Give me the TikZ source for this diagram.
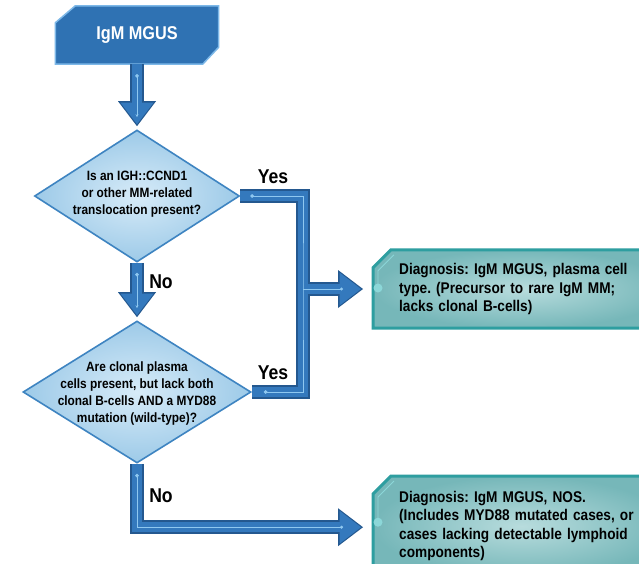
\documentclass[tikz,border=0pt]{standalone}
\usepackage{fontspec}
\setmainfont{Liberation Sans}[FakeStretch=0.88]
\frenchspacing
\usetikzlibrary{shapes.geometric,arrows.meta,backgrounds}

\definecolor{startfill}{RGB}{47,114,179}
\definecolor{startedge}{RGB}{125,184,232}
\definecolor{barfill}{RGB}{52,121,189}
\definecolor{baredge}{RGB}{36,88,143}
\definecolor{barglint}{RGB}{143,200,240}
\definecolor{qin}{RGB}{215,235,248}
\definecolor{qout}{RGB}{157,202,232}
\definecolor{qedge}{RGB}{62,132,193}
\definecolor{dxin}{RGB}{184,220,221}
\definecolor{dxout}{RGB}{118,183,185}
\definecolor{dxedge}{RGB}{46,158,160}
\definecolor{dxglint}{RGB}{140,215,216}

\tikzset{
  startbox/.style={minimum width=163pt,minimum height=58pt,inner sep=0pt,text=white,font=\fontsize{18.5}{22}\selectfont\bfseries},
  question/.style={diamond,draw=qedge,line width=1.6pt,inner color=qin,outer color=qout,inner sep=0pt},
  qtext/.style={align=center,font=\fontsize{13.5}{17}\selectfont\bfseries},
  diag/.style={anchor=west,minimum height=78pt,inner xsep=26pt,text width=245pt,align=left,font=\fontsize{15.5}{18.5}\selectfont\bfseries},
  lbl/.style={font=\fontsize{20}{24}\selectfont\bfseries},
  barout/.style={draw=baredge,line width=13.5pt},
  barin/.style={draw=barfill,line width=10pt},
  headout/.style={-{Triangle[width=38pt,length=25pt,line width=0pt]}},
  headin/.style={-{Triangle[width=33pt,length=21.5pt,line width=0pt]}},
  glint/.style={draw=barglint,line width=1pt},
}

\begin{document}
\begin{tikzpicture}[x=1pt,y=-1pt]
\useasboundingbox (0,0) rectangle (639,563);
\clip (0,0) rectangle (639,563);
% nodes
\node[startbox] (start) at (137,35) {IgM MGUS};
\node[question,minimum width=205pt,minimum height=132pt] (d1) at (137,196) {};
\node[qtext] (d1t) at (137,194) {Is an IGH::CCND1\\or other MM-related\\translocation present?};
\node[question,minimum width=228pt,minimum height=142pt] (d2) at (137,392) {};
\node[qtext] (d2t) at (137,393) {Are clonal plasma\\cells present, but lack both\\clonal B-cells AND a MYD88\\mutation (wild-type)?};
\node[diag] (dx1) at (373,289) {Diagnosis: IgM MGUS, plasma cell\\type. (Precursor to rare IgM MM;\\lacks clonal B-cells)};
\node[diag,anchor=north west,minimum height=100pt] (dx2) at (373,476) {Diagnosis: IgM MGUS, NOS.\\(Includes MYD88 mutated cases, or\\cases lacking detectable lymphoid\\components)};
\coordinate (jn) at (303,289);
% labels
\node[lbl] (yes1) at (273,177) {Yes};
\node[lbl] (yes2) at (273,373) {Yes};
\node[lbl] (no1) at (161,282) {No};
\node[lbl] (no2) at (161,496) {No};
% box shapes behind the text
\begin{pgfonlayer}{background}
\fill[white] (0,0) rectangle (639,563);
\draw[startedge,line width=1.5pt,fill=startfill] ([yshift=-17pt]start.north west) -- ([xshift=20pt]start.north west) -- (start.north east) -- ([yshift=17pt]start.south east) -- ([xshift=-16pt]start.south east) -- (start.south west) -- cycle;
\foreach \b/\s in {dx1/1,dx2/4}{
  \draw[draw=dxedge,line width=3pt,inner color=dxin,outer color=dxout] ([yshift=-18pt]\b.north west) -- ([xshift=18pt]\b.north west) -- (\b.north east) -- (\b.south east) -- (\b.south west) -- cycle;
  \draw[dxglint,line width=0.8pt] ([xshift=5pt,yshift=\s pt]\b.west) -- ([xshift=5pt,yshift=-21pt]\b.north west) -- ([xshift=21pt,yshift=-5pt]\b.north west);
  \fill[dxglint] ([xshift=5pt,yshift=\s pt]\b.west) circle (4.5pt);
}
\end{pgfonlayer}
% connectors: outlines first, then fills
\draw[barout] (d1.east) -| (jn) |- (d2.east);
\draw[barout,headout,shorten >=10pt] (jn) -- (dx1.west);
\draw[barout,headout,shorten >=10pt] (d2.south) |- ([yshift=-1pt]dx2.west);
\draw[barout,headout,shorten >=3pt] (start.south) -- (d1.north);
\draw[barout,headout,shorten >=3pt] (d1.south) -- (d2.north);
\draw[barin] (d1.east) -| (jn) |- (d2.east);
\draw[barin,headin,shorten >=12pt] (jn) -- (dx1.west);
\draw[barin,headin,shorten >=12pt] (d2.south) |- ([yshift=-1pt]dx2.west);
\draw[barin,headin,shorten >=5pt] (start.south) -- (d1.north);
\draw[barin,headin,shorten >=5pt] (d1.south) -- (d2.north);
% light stripes
\draw[glint,{Circle[length=3.5pt]}-{Stealth[length=3pt,width=3pt]},shorten <=10pt,shorten >=12pt] (start.south) -- (d1.north);
\draw[glint,{Circle[length=3.5pt]}-{Stealth[length=3pt,width=3pt]},shorten <=10pt,shorten >=12pt] (d1.south) -- (d2.north);
\draw[glint,{Circle[length=3.5pt]}-{Circle[length=3.5pt]},shorten <=10pt,shorten >=12pt] (d1.east) -| (jn) |- (d2.east);
\draw[glint,-{Circle[length=3pt]},shorten >=30pt] (jn) -- (dx1.west);
\draw[glint,{Circle[length=3.5pt]}-{Circle[length=3pt]},shorten <=10pt,shorten >=30pt] (d2.south) |- ([yshift=-1pt]dx2.west);
\end{tikzpicture}
\end{document}
